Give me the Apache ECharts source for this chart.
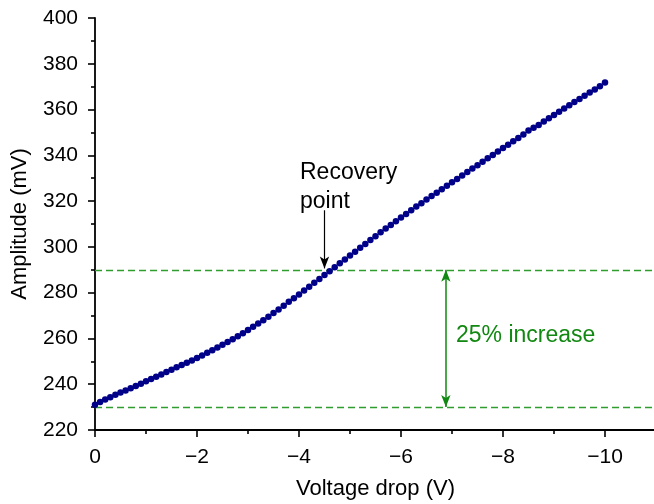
<!DOCTYPE html>
<html>
<head>
<meta charset="utf-8">
<script src="https://cdn.jsdelivr.net/npm/echarts@6/dist/echarts.min.js"></script>
<style>html,body{margin:0;padding:0;background:#fff}#c{width:654px;height:504px}</style>
</head>
<body>
<div id="c"></div>
<script>
var voltage = [0,-0.1,-0.2,-0.3,-0.4,-0.5,-0.6,-0.7,-0.8,-0.9,
-1.0,-1.1,-1.2,-1.3,-1.4,-1.5,-1.6,-1.7,-1.8,-1.9,
-2.0,-2.1,-2.2,-2.3,-2.4,-2.5,-2.6,-2.7,-2.8,-2.9,
-3.0,-3.1,-3.2,-3.3,-3.4,-3.5,-3.6,-3.7,-3.8,-3.9,
-4.0,-4.1,-4.2,-4.3,-4.4,-4.5,-4.6,-4.7,-4.8,-4.9,
-5.0,-5.1,-5.2,-5.3,-5.4,-5.5,-5.6,-5.7,-5.8,-5.9,
-6.0,-6.1,-6.2,-6.3,-6.4,-6.5,-6.6,-6.7,-6.8,-6.9,
-7.0,-7.1,-7.2,-7.3,-7.4,-7.5,-7.6,-7.7,-7.8,-7.9,
-8.0,-8.1,-8.2,-8.3,-8.4,-8.5,-8.6,-8.7,-8.8,-8.9,
-9.0,-9.1,-9.2,-9.3,-9.4,-9.5,-9.6,-9.7,-9.8,-9.9,-10.0];
var amplitude = [231.0,232.2,233.3,234.3,235.4,236.4,237.3,238.2,239.2,240.2,
241.3,242.3,243.3,244.3,245.3,246.3,247.4,248.4,249.4,250.4,
251.5,252.6,253.7,254.8,256.0,257.2,258.4,259.7,261.0,262.3,
263.7,265.1,266.5,268.0,269.5,271.1,272.7,274.3,276.0,277.6,
279.2,280.9,282.6,284.3,286.0,287.7,289.4,291.1,292.8,294.5,
296.2,297.9,299.6,301.3,303.0,304.7,306.4,308.0,309.6,311.2,
312.8,314.4,316.0,317.6,319.1,320.7,322.2,323.7,325.2,326.7,
328.2,329.7,331.2,332.7,334.2,335.7,337.2,338.7,340.2,341.7,
343.2,344.6,346.1,347.6,349.1,350.8,352.0,353.3,354.8,356.2,
357.6,359.0,360.5,361.9,363.3,364.6,366.0,367.4,368.8,370.2,371.8];
var refLevels = [290, 230];
var recoveryX = -4.5;
var recoveryArrow = [316, 290.6];
var increaseX = -6.88;
var labels = {x: 'Voltage drop (V)', y: 'Amplitude (mV)', recovery: 'Recovery\npoint', increase: '25% increase'};

var font = '"Liberation Sans", Arial, sans-serif';
var pts = voltage.map(function (v, i) { return [v, amplitude[i]]; });
var chart = echarts.init(document.getElementById('c'));
var green = '#2f9e2f', dkgreen = '#118811';
var axisCommon = {
  axisLine: {show: true, onZero: false, lineStyle: {color: '#000', width: 1.8}},
  axisTick: {show: true, inside: false, length: 7, lineStyle: {color: '#000', width: 1.6}},
  minorTick: {show: true, splitNumber: 2, length: 4, lineStyle: {color: '#000', width: 1.6}},
  splitLine: {show: false}
};
chart.setOption({
  animation: false,
  grid: {left: 95, top: 18, width: 612, height: 412, containLabel: false, outerBoundsMode: 'none'},
  xAxis: Object.assign({
    type: 'value', min: -12, max: 0, interval: 2, inverse: true,
    name: labels.x, nameLocation: 'middle', nameGap: 48,
    nameTextStyle: {fontFamily: font, fontSize: 22, color: '#000', padding: [0, 51, 0, 0]},
    axisLabel: {fontFamily: font, fontSize: 21, color: '#000', margin: 17,
      formatter: function (v) { return String(v).replace('-', '\u2212'); }}
  }, axisCommon),
  yAxis: Object.assign({
    type: 'value', min: 220, max: 400, interval: 20,
    name: labels.y, nameLocation: 'middle', nameGap: 64,
    nameTextStyle: {fontFamily: font, fontSize: 22, color: '#000'},
    axisLabel: {fontFamily: font, fontSize: 21, color: '#000', margin: 17}
  }, axisCommon),
  series: [
    {
      type: 'line', data: [], silent: true,
      markLine: {
        silent: true, symbol: ['none', 'none'], animation: false,
        label: {show: false},
        lineStyle: {color: green, type: [7, 4], width: 1.3},
        data: refLevels.map(function (l) { return {yAxis: l}; })
      }
    },
    {
      type: 'line', data: [], silent: true,
      markLine: {
        silent: true, symbol: ['arrow', 'arrow'], symbolSize: [7, 12], animation: false,
        label: {show: false},
        lineStyle: {color: dkgreen, type: 'solid', width: 1.5},
        data: [[{coord: [increaseX, refLevels[0]]}, {coord: [increaseX, refLevels[1]]}]]
      }
    },
    {
      type: 'line', data: [], silent: true,
      markLine: {
        silent: true, symbol: ['none', 'arrow'], symbolSize: [7, 12], animation: false,
        label: {show: false},
        lineStyle: {color: '#000', type: 'solid', width: 1.2},
        data: [[{coord: [recoveryX, recoveryArrow[0]]}, {coord: [recoveryX, recoveryArrow[1]]}]]
      }
    },
    {
      type: 'scatter', data: pts, symbol: 'circle', symbolSize: 6.5,
      itemStyle: {color: '#000088', opacity: 1}, z: 5
    }
  ],
  graphic: [
    {type: 'text', left: 300, top: 158, style: {text: labels.recovery, font: '23px ' + font, fill: '#000', lineHeight: 29}},
    {type: 'text', left: 456, top: 324, style: {text: labels.increase, font: '23px ' + font, fill: dkgreen}}
  ]
});
</script>
</body>
</html>
